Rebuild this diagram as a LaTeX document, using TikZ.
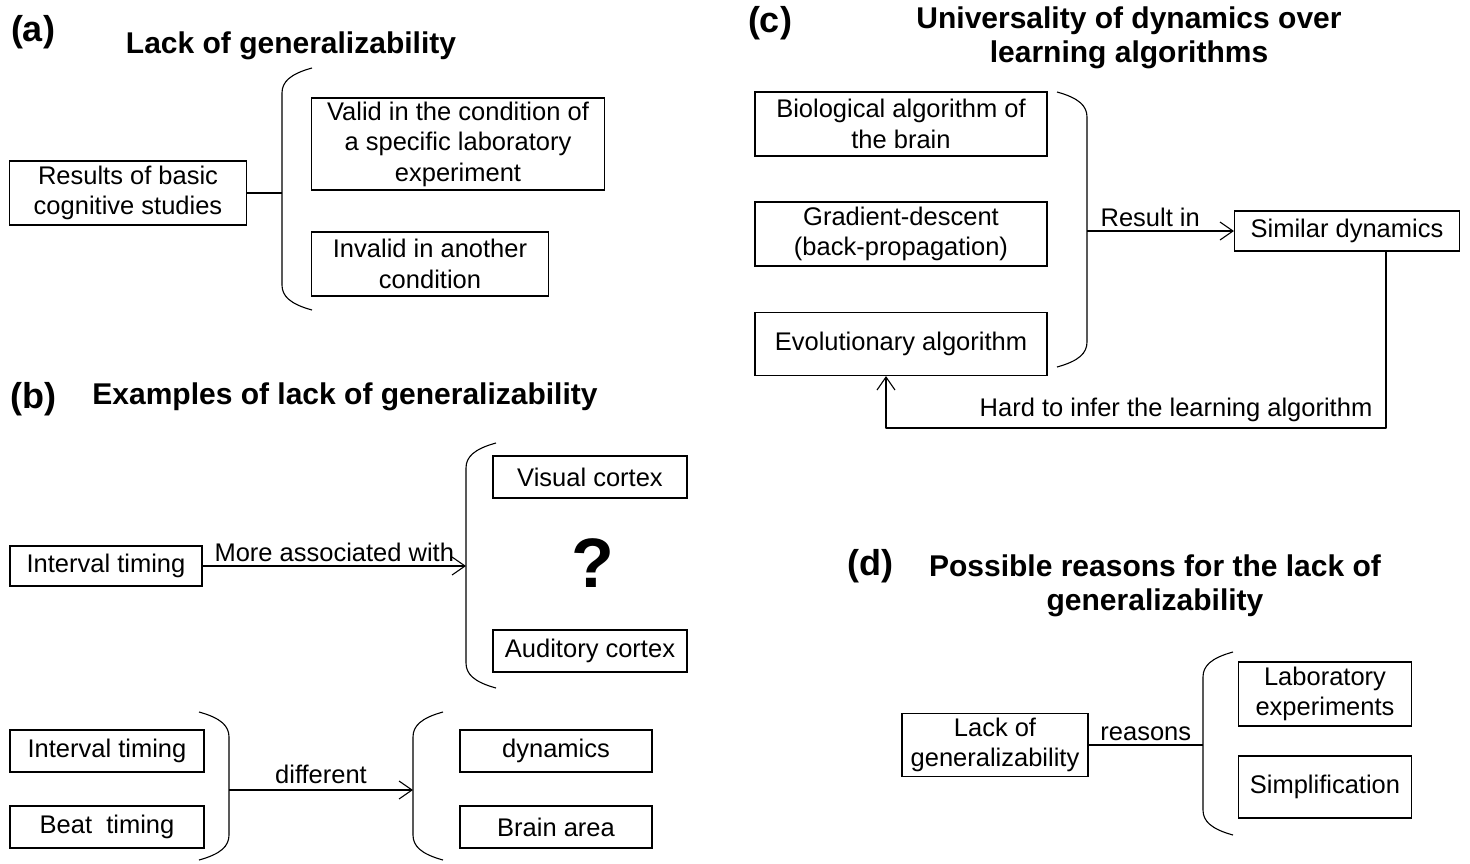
\documentclass[tikz,border=0pt]{standalone}
\usepackage{fontspec}
\setmainfont{Liberation Sans}
\usetikzlibrary{arrows.meta}
\newcommand\openbr[3]{%
  \draw[ln] ({#1+30},{#2}) .. controls ({#1+8},{#2+6}) and ({#1},{#2+14}) .. ({#1},{#2+25}) -- ({#1},{#3-25}) .. controls ({#1},{#3-14}) and ({#1+8},{#3-6}) .. ({#1+30},{#3});}
\newcommand\closebr[3]{%
  \draw[ln] ({#1-30},{#2}) .. controls ({#1-8},{#2+6}) and ({#1},{#2+14}) .. ({#1},{#2+25}) -- ({#1},{#3-25}) .. controls ({#1},{#3-14}) and ({#1-8},{#3-6}) .. ({#1-30},{#3});}
\tikzset{
  ln/.style={line width=1.1pt, line join=round},
  box/.style 2 args={draw, line width=1.1pt, minimum width=#1, minimum height=#2, inner sep=0pt, align=center, font=\fontsize{25.5}{30.5}\selectfont},
  lbl/.style={font=\fontsize{25.5}{30.5}\selectfont, inner sep=4pt},
  panel/.style={font=\fontsize{36}{42}\selectfont\bfseries, inner sep=0pt},
  ttl/.style={font=\fontsize{30}{34.5}\selectfont\bfseries, inner sep=0pt, align=center},
  arr/.style={ln, -{Straight Barb[length=13pt,width=18pt,line width=1.1pt]}},
}
\begin{document}
\begin{tikzpicture}[x=1pt,y=-1pt]
\useasboundingbox (0,0) rectangle (1470,863);
% ---------- (a)
\node[panel] (pa) at (33,32) {(a)};
\node[ttl] (ta) at (291,46) {Lack of generalizability};
\node[box={237}{64}] (res) at (128,193) {Results of basic\\cognitive studies};
\node[box={293}{92}] (valid) at (458,144) {Valid in the condition of\\a specific laboratory\\experiment};
\node[box={237}{64}] (inval) at (430,264) {Invalid in another\\condition};
\openbr{282}{68}{310}
\coordinate (bra) at (282,193);
\draw[ln] (res.east) -- (bra);
% ---------- (b)
\node[panel] (pb) at (33,399) {(b)};
\node[ttl] (tb) at (345,397) {Examples of lack of generalizability};
\node[box={192}{40}] (it1) at (106,566) {Interval timing};
\node[box={194}{42}] (vis) at (590,477) {Visual cortex};
\node[box={194}{42}] (aud) at (590,651) {Auditory cortex};
\node[font=\fontsize{70}{80}\selectfont\bfseries, inner sep=0pt] (q) at (593,563) {?};
\openbr{466}{443}{688}
\coordinate (brb) at (466,566);
\draw[arr] (it1.east) -- node[lbl, above] {More associated with} (brb);
\node[box={194}{42}] (it2) at (107,751) {Interval timing};
\node[box={194}{42}] (beat) at (107,827) {Beat\ \ timing};
\node[box={192}{42}] (dyn) at (556,751) {dynamics};
\node[box={192}{42}] (area) at (556,827) {Brain area};
\closebr{229}{712}{860}
\openbr{413}{712}{860}
\coordinate (brb1) at (229,790);
\coordinate (brb2) at (413,790);
\draw[arr] (brb1) -- node[lbl, above, inner sep=6pt] {different} (brb2);
% ---------- (c)
\node[panel] (pc) at (770,23) {(c)};
\node[ttl] (tc) at (1129,38) {Universality of dynamics over\\learning algorithms};
\node[box={292}{64}] (bio) at (901,124) {Biological algorithm of\\the brain};
\node[box={292}{64}] (grad) at (901,234) {Gradient-descent\\(back-propagation)};
\node[box={292}{63}] (evo) at (901,344) {Evolutionary algorithm};
\node[box={225}{40}] (sim) at (1347,231) {Similar dynamics};
\closebr{1087}{92}{367}
\coordinate (brc) at (1087,231);
\draw[arr] (brc) -- node[lbl, above, pos=0.43] {Result in} (sim.west);
\coordinate (c1) at (1386,428);
\coordinate (c2) at (886,428);
\draw[arr] (sim.south -| c1) -- (c1) -- node[lbl, above, inner sep=6pt, pos=0.42] {Hard to infer the learning algorithm} (c2) -- (evo.south -| c2);
% ---------- (d)
\node[panel] (pd) at (870,566) {(d)};
\node[ttl] (td) at (1155,586) {Possible reasons for the lack of\\generalizability};
\node[box={186}{63}] (lack) at (995,745) {Lack of\\generalizability};
\node[box={173}{64}] (lab) at (1325,694) {Laboratory\\experiments};
\node[box={173}{62}] (simp) at (1325,787) {Simplification};
\openbr{1203}{652}{835}
\coordinate (brd) at (1203,745);
\draw[ln] (lack.east) -- node[lbl, above] {reasons} (brd);
\end{tikzpicture}
\end{document}
